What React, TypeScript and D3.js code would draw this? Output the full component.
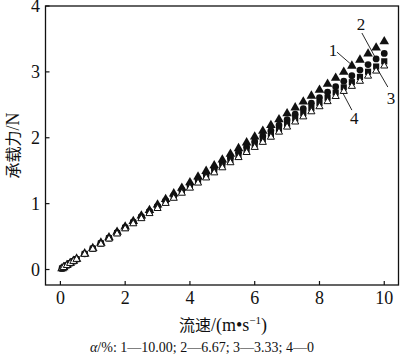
import React from "react";
import * as d3 from "d3";

const speeds = [0.05, 0.1, 0.2, 0.3, 0.4, 0.5, 0.75, 1, 1.25, 1.5, 1.75, 2, 2.25, 2.5, 2.75, 3, 3.25, 3.5, 3.75, 4, 4.25, 4.5, 4.75, 5, 5.25, 5.5, 5.75, 6, 6.25, 6.5, 6.75, 7, 7.25, 7.5, 7.75, 8, 8.25, 8.5, 8.75, 9, 9.25, 9.5, 9.75, 10];

const load1 = [0.016, 0.032, 0.064, 0.096, 0.128, 0.161, 0.241, 0.323, 0.404, 0.486, 0.568, 0.65, 0.733, 0.816, 0.9, 0.983, 1.067, 1.152, 1.237, 1.322, 1.407, 1.493, 1.579, 1.665, 1.752, 1.839, 1.926, 2.014, 2.102, 2.19, 2.278, 2.367, 2.457, 2.546, 2.636, 2.726, 2.817, 2.908, 2.999, 3.091, 3.182, 3.275, 3.367, 3.46];
const load2 = [0.016, 0.032, 0.064, 0.095, 0.127, 0.159, 0.239, 0.319, 0.399, 0.479, 0.56, 0.64, 0.721, 0.801, 0.882, 0.963, 1.044, 1.125, 1.207, 1.288, 1.37, 1.451, 1.533, 1.615, 1.697, 1.779, 1.862, 1.944, 2.027, 2.109, 2.192, 2.275, 2.358, 2.441, 2.525, 2.608, 2.692, 2.775, 2.859, 2.943, 3.027, 3.111, 3.196, 3.28];
const load3 = [0.016, 0.032, 0.063, 0.095, 0.126, 0.158, 0.237, 0.316, 0.395, 0.474, 0.553, 0.632, 0.711, 0.79, 0.869, 0.948, 1.027, 1.106, 1.185, 1.264, 1.343, 1.422, 1.501, 1.58, 1.659, 1.738, 1.817, 1.896, 1.975, 2.054, 2.133, 2.212, 2.291, 2.37, 2.449, 2.528, 2.607, 2.686, 2.765, 2.844, 2.923, 3.002, 3.081, 3.16];
const load4 = [0.015, 0.031, 0.062, 0.093, 0.124, 0.155, 0.232, 0.309, 0.386, 0.464, 0.541, 0.618, 0.695, 0.773, 0.85, 0.927, 1.004, 1.082, 1.159, 1.236, 1.313, 1.391, 1.468, 1.545, 1.622, 1.7, 1.777, 1.854, 1.931, 2.009, 2.086, 2.163, 2.24, 2.318, 2.395, 2.472, 2.549, 2.627, 2.704, 2.781, 2.858, 2.936, 3.013, 3.09];

const xTicks = [0, 2, 4, 6, 8, 10];
const yTicks = [0, 1, 2, 3, 4];

const labelNames = ["1", "2", "3", "4"];
const labelPos = [[8.42, 3.33], [9.28, 3.73], [10.21, 2.6], [9.07, 2.3]];
const leaderFrom = [[8.54, 3.3], [9.31, 3.59], [10.11, 2.77], [9.0, 2.42]];
const leaderTo = [[8.94, 3.13], [9.71, 3.23], [9.77, 3.06], [8.72, 2.68]];

const W = 400, H = 357;
const L = 45.5, R = 398.5, T = 6, B = 285;
const serif = "Liberation Serif, DejaVu Serif, serif";
const cjk = "Noto Sans CJK SC, sans-serif";

export default function App() {
  const x = d3.scaleLinear().domain([-0.46, 10.44]).range([L, R]);
  const y = d3.scaleLinear().domain([-0.235, 4]).range([B, T]);
  const tri = d3.symbol().type(d3.symbolTriangle).size(40)();
  const triOpen = d3.symbol().type(d3.symbolTriangle).size(22)();
  const circ = d3.symbol().type(d3.symbolCircle).size(36)();
  const sq = d3.symbol().type(d3.symbolSquare).size(38)();
  const ink = "#111";
  return (
    <svg width={W} height={H} style={{ position: "absolute", left: 0, top: 0, background: "#fff" }}>
      <rect x={L} y={T} width={R - L} height={B - T} fill="none" stroke={ink} strokeWidth={1.3} />
      {xTicks.map((t) => (
        <g key={"x" + t}>
          <line x1={x(t)} x2={x(t)} y1={B} y2={B - 4} stroke={ink} strokeWidth={1.2} />
          <text x={x(t)} y={304} textAnchor="middle" style={{ fontFamily: serif }} fontSize={18} fill={ink}>{t}</text>
        </g>
      ))}
      {yTicks.map((t) => (
        <g key={"y" + t}>
          <line x1={L} x2={L + 4} y1={y(t)} y2={y(t)} stroke={ink} strokeWidth={1.2} />
          <text x={40} y={y(t)} dy="0.35em" textAnchor="end" style={{ fontFamily: serif }} fontSize={18} fill={ink}>{t}</text>
        </g>
      ))}
      {speeds.map((v, i) => (
        <path key={"a" + i} d={tri} transform={`translate(${x(v)},${y(load1[i])})`} fill={ink} />
      ))}
      {speeds.map((v, i) => (
        <path key={"b" + i} d={circ} transform={`translate(${x(v)},${y(load2[i])})`} fill={ink} />
      ))}
      {speeds.map((v, i) => (
        <path key={"c" + i} d={sq} transform={`translate(${x(v)},${y(load3[i])})`} fill={ink} />
      ))}
      {speeds.map((v, i) => (
        <path key={"d" + i} d={triOpen} transform={`translate(${x(v)},${y(load4[i])})`} fill="#fff" stroke={ink} strokeWidth={1} />
      ))}
      {labelNames.map((n, i) => (
        <g key={"l" + n}>
          <line x1={x(leaderFrom[i][0])} y1={y(leaderFrom[i][1])} x2={x(leaderTo[i][0])} y2={y(leaderTo[i][1])} stroke={ink} strokeWidth={0.9} />
          <text x={x(labelPos[i][0])} y={y(labelPos[i][1])} dy="0.35em" textAnchor="middle" style={{ fontFamily: serif }} fontSize={17} fill={ink}>{n}</text>
        </g>
      ))}
      <text x={223} y={331} textAnchor="middle" style={{ fontFamily: serif }} fontSize={18} fill={ink}>
        <tspan style={{ fontFamily: cjk }} fontSize={16}>流速</tspan>
        <tspan>/(m•s</tspan>
        <tspan fontSize={11} dy={-7}>−1</tspan>
        <tspan dy={7}>)</tspan>
      </text>
      <text transform={`translate(19,${(T + B) / 2}) rotate(-90)`} textAnchor="middle" style={{ fontFamily: serif }} fontSize={18} fill={ink}>
        <tspan style={{ fontFamily: cjk }} fontSize={16}>承载力</tspan>
        <tspan>/N</tspan>
      </text>
      <text x={202} y={352} textAnchor="middle" style={{ fontFamily: serif }} fontSize={14} fill={ink}>
        <tspan fontStyle="italic">α</tspan>/%: 1—10.00; 2—6.67; 3—3.33; 4—0
      </text>
    </svg>
  );
}
